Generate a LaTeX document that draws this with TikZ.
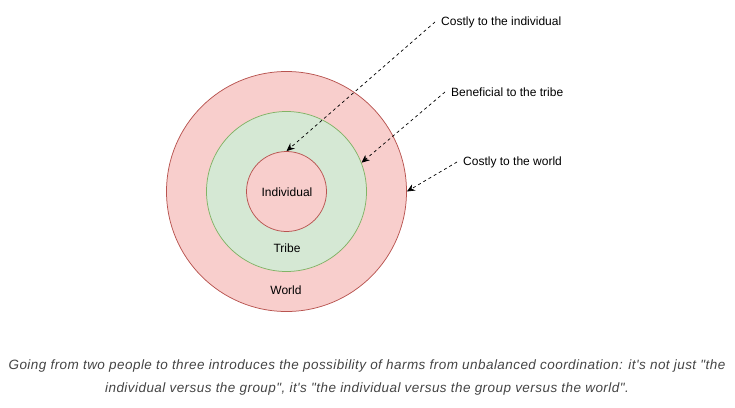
\documentclass[tikz,border=0pt]{standalone}
\usepackage{fontspec}
\setmainfont{Liberation Sans}
\newfontfamily\capfont[LetterSpace=3.3]{Liberation Sans}
\usetikzlibrary{arrows.meta}
\definecolor{redfill}{HTML}{F8CECC}
\definecolor{redline}{HTML}{B85450}
\definecolor{greenfill}{HTML}{D5E8D4}
\definecolor{greenline}{HTML}{82B366}
\definecolor{captext}{HTML}{444444}
\begin{document}
\begin{tikzpicture}[x=1pt,y=-1pt,
  ring/.style={circle,inner sep=0pt,minimum size=#1},
  redring/.style={ring=#1,draw=redline,fill=redfill,line width=0.75pt},
  greenring/.style={ring=#1,draw=greenline,fill=greenfill,line width=0.75pt},
  lbl/.style={font=\fontsize{12}{14}\selectfont,inner sep=0pt},
  note/.style={font=\fontsize{12}{14}\selectfont,anchor=west,inner ysep=0pt,inner xsep=6pt},
  pointer/.style={line width=0.7pt,dash pattern=on 3pt off 3pt,-{Stealth[length=8pt,width=7pt]}},
  caption/.style={font=\capfont\itshape\fontsize{13.5}{23}\selectfont,text=captext,align=center}]
\useasboundingbox (0,0) rectangle (735,407);
\node[redring=240pt] (world) at (286.5,191.5) {};
\node[greenring=160pt] (tribe) at (286.5,191.5) {};
\node[redring=80pt] (ind) at (286.5,191.5) {};
\node[lbl] (tind) at (287,192) {Individual};
\node[lbl] (ttribe) at (287,248) {Tribe};
\node[lbl] (tworld) at (286,290) {World};
\node[note] (n1) at (435,22) {Costly to the individual};
\node[note] (n2) at (445,92) {Beneficial to the tribe};
\node[note] (n3) at (457,162) {Costly to the world};
\draw[pointer] (n1.west) -- (ind.north);
\draw[pointer] (n2.west) -- (tribe.21);
\draw[pointer] (n3.west) -- (world.east);
\node[caption] (cap) at (367,378) {Going from two people to three introduces the possibility of harms from unbalanced coordination: it's not just "the\\individual versus the group", it's "the individual versus the group versus the world".};
\end{tikzpicture}
\end{document}
